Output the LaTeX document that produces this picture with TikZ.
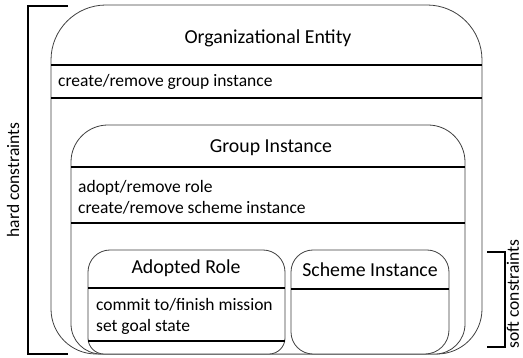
\documentclass[tikz,border=0pt]{standalone}
\usepackage{fontspec}
\setmainfont{Carlito}
\begin{document}
\begin{tikzpicture}[x=1pt,y=-1pt,
  boxline/.style={draw=black!75,line width=0.8pt,fill=white},
  sepline/.style={draw=black,line width=1.3pt},
  bracket/.style={draw=black,line width=1.8pt},
  title/.style={font=\fontsize{19.8}{23}\selectfont,inner sep=0pt},
  body/.style={font=\fontsize{17.5}{21}\selectfont,inner sep=0pt,anchor=west,align=left}]
\useasboundingbox (0,0) rectangle (523,358);
% outer box
\draw[boxline] (266,354) [rounded corners=45] -- (51,354) -- (51,200) [rounded corners=55] -- (51,5) -- (482,5) -- (482,200) [rounded corners=45] -- (482,354) -- cycle;
\draw[sepline] (51,65) -- (482,65);
\draw[sepline] (51,98) -- (482,98);
% group box
\draw[boxline] (268,354) [rounded corners=30] -- (71,354) -- (71,240) [rounded corners=37] -- (71,125) -- (465,125) -- (465,240) [rounded corners=30] -- (465,354) -- cycle;
\draw[sepline] (71,167) -- (465,167);
\draw[sepline] (71,223) -- (465,223);
% adopted role
\draw[boxline] (186,354) [rounded corners=16] -- (88,354) -- (88,300) [rounded corners=22] -- (88,250) -- (285,250) -- (285,300) [rounded corners=16] -- (285,354) -- cycle;
\draw[sepline] (88,288) -- (285,288);
\draw[sepline] (88,341) -- (285,341);
% scheme instance
\draw[boxline] (370,354) [rounded corners=22] -- (291,354) -- (291,300) [rounded corners=22] -- (291,250) -- (449,250) -- (449,300) [rounded corners=24] -- (449,354) -- cycle;
\draw[sepline] (291,289) -- (449,289);
% texts
\node[title] (oe) at (268,38) {Organizational Entity};
\node[body] (oet) at (58,82) {create/remove group instance};
\node[title] (gi) at (271,148) {Group Instance};
\node[body] (git) at (78,197.5) {adopt/remove role\\create/remove scheme instance};
\node[title] (ar) at (186,268) {Adopted Role};
\node[body] (art) at (96,316) {commit to/finish mission\\set goal state};
\node[title] (si) at (370,270) {Scheme Instance};
% brackets
\coordinate (h1) at (68,6);
\coordinate (h2) at (28,6);
\coordinate (h3) at (28,354);
\coordinate (h4) at (68,354);
\draw[bracket] (h1) -- (h2) -- (h3) -- (h4);
\node[body,anchor=center,rotate=90] (hc) at (13,180) {hard constraints};
\coordinate (s1) at (487,252);
\coordinate (s2) at (505,252);
\coordinate (s3) at (505,347);
\coordinate (s4) at (487,347);
\draw[bracket] (s1) -- (s2) -- (s3) -- (s4);
\node[body,anchor=center,rotate=90] (sc) at (513,294) {soft constraints};
\end{tikzpicture}
\end{document}
